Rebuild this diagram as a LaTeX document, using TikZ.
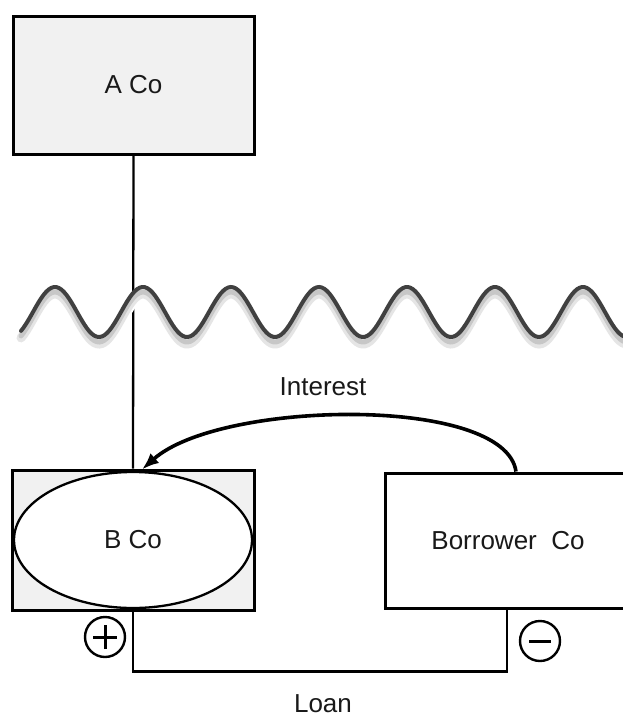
\documentclass[tikz,border=0pt]{standalone}
\usepackage{fontspec}
\setmainfont{Liberation Sans}
\usetikzlibrary{arrows.meta,shapes.geometric}
\begin{document}
\begin{tikzpicture}[x=1pt,y=-1pt,
  box/.style={draw=black, line width=3pt, rectangle, inner sep=0pt},
  lbl/.style={font=\fontsize{26}{31}\selectfont, text=black!90},
  conn/.style={draw=black, line width=2.3pt},
  sign/.style={draw=black, circle, line width=2.4pt, minimum size=40pt, inner sep=0pt},
  signbar/.style={draw=black, line width=3pt},
  wave/.style={line width=4pt, draw=black!75, line cap=round},
  flow/.style={draw=black, line width=3.6pt, -{Latex[length=17pt,width=13pt]}}]
\useasboundingbox (0,0) rectangle (622,718);
% boxes
\node[box, fill=gray!11, minimum width=241pt, minimum height=138pt, lbl] (aco) at (133.5,85) {A Co};
\node[box, fill=gray!11, minimum width=242pt, minimum height=140pt] (bco) at (133,540) {};
\node[draw=black, line width=2.3pt, fill=white, ellipse, minimum width=238pt, minimum height=136pt, inner sep=0pt, lbl] (bell) at (133,540) {B Co};
\node[box, fill=white, minimum width=246pt, minimum height=135pt, lbl] (borrower) at (508,540.5) {Borrower\ \ Co};
% ownership line
\draw[conn] (aco.south) -- (bco.north);
% wave with shadow
\draw[white, line width=12pt] plot[domain=21:625, samples=240] (\x, {320-25*cos((\x-55)/88*360)});
\draw[black!10, line width=9pt, line cap=round] plot[domain=21:625, samples=240] (\x, {319-25*cos((\x-55)/88*360)});
\draw[black!22, line width=5pt, line cap=round] plot[domain=21:625, samples=240] (\x, {317-25*cos((\x-55)/88*360)});
\draw[wave] plot[domain=21:625, samples=240] (\x, {312-25*cos((\x-55)/88*360)});
% interest arrow
\coordinate (istart) at ([xshift=8pt]borrower.north);
\coordinate (iend) at ([xshift=9pt,yshift=-1pt]bco.north);
\draw[flow] (istart) .. controls (505,395) and (220,400) .. (iend);
\node[lbl] (interest) at (323,387) {Interest};
% loan connector
\draw[conn] (bco.south) -- ++(0,60) -| ([xshift=-1pt]borrower.south);
\node[lbl] (loan) at (323,704) {Loan};
% signs
\node[sign] (plus) at (105,637) {};
\draw[signbar] ([xshift=-12pt]plus.center) -- ([xshift=12pt]plus.center);
\draw[signbar] ([yshift=-12pt]plus.center) -- ([yshift=12pt]plus.center);
\node[sign] (minus) at (540,641) {};
\draw[signbar] ([xshift=-11pt]minus.center) -- ([xshift=11pt]minus.center);
\end{tikzpicture}
\end{document}
